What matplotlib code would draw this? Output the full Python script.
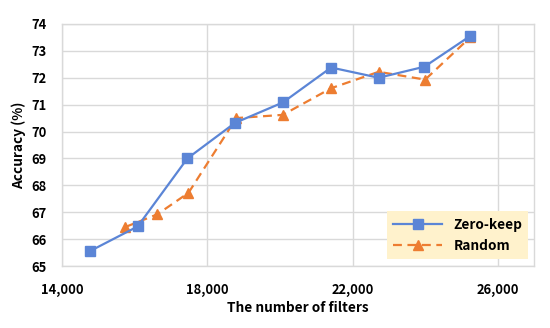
import matplotlib
matplotlib.use('Agg')
import matplotlib.pyplot as plt
from matplotlib.ticker import FuncFormatter, MultipleLocator

plt.rcParams['font.family'] = ['Noto Sans CJK KR', 'DejaVu Sans']
plt.rcParams['font.weight'] = 'bold'

# data
zero_keep_x = [14760, 16080, 17450, 18760, 20080, 21410, 22720, 23980, 25240]
zero_keep_y = [65.55, 66.47, 69.0, 70.32, 71.08, 72.38, 72.0, 72.41, 73.55]
random_x = [15740, 16620, 17480, 18800, 20080, 21410, 22720, 24000, 25240]
random_y = [66.45, 66.92, 67.72, 70.5, 70.62, 71.61, 72.22, 71.93, 73.5]
x_ticks = [14000, 18000, 22000, 26000]

blue = '#5b85d6'
orange = '#ed7d31'
grid_col = '#d9d9d9'

fig, ax = plt.subplots(figsize=(5.5, 3.28), dpi=100)
fig.subplots_adjust(left=0.113, right=0.971, top=0.927, bottom=0.189)

ax.plot(zero_keep_x, zero_keep_y, color=blue, linewidth=1.6, marker='s',
        markersize=7.5, label='Zero-keep', zorder=3)
ax.plot(random_x, random_y, color=orange, linewidth=1.6, linestyle=(0, (4, 2.5)),
        marker='^', markersize=7.5, label='Random', zorder=2)

ax.set_xlim(14000, 27000)
ax.set_ylim(65, 74)
ax.set_xticks(x_ticks)
ax.yaxis.set_major_locator(MultipleLocator(1))
ax.xaxis.set_major_formatter(FuncFormatter(lambda v, p: f'{int(v):,}'))

ax.grid(True, color=grid_col, linewidth=1)
ax.set_axisbelow(True)
for s in ax.spines.values():
    s.set_color(grid_col)
    s.set_linewidth(1)
ax.tick_params(length=0, labelsize=9.3)
ax.tick_params(axis='x', pad=12)
ax.tick_params(axis='y', pad=11)
for lab in ax.get_xticklabels() + ax.get_yticklabels():
    lab.set_fontweight('bold')

ax.set_xlabel('The number of filters', fontsize=9.8, fontweight='bold', labelpad=3)
ax.set_ylabel('Accuracy (%)', fontsize=9.8, fontweight='bold', labelpad=4)

leg = ax.legend(loc='lower right', bbox_to_anchor=(0.988, 0.028), frameon=True,
                fancybox=False, fontsize=9.8, handlelength=3.6,
                borderpad=0.45, labelspacing=0.55, borderaxespad=0)
leg.get_frame().set_facecolor('#fff2cc')
leg.get_frame().set_edgecolor('none')
leg.get_frame().set_alpha(1)
for t in leg.get_texts():
    t.set_fontweight('bold')

fig.savefig('out.png', dpi=100)
